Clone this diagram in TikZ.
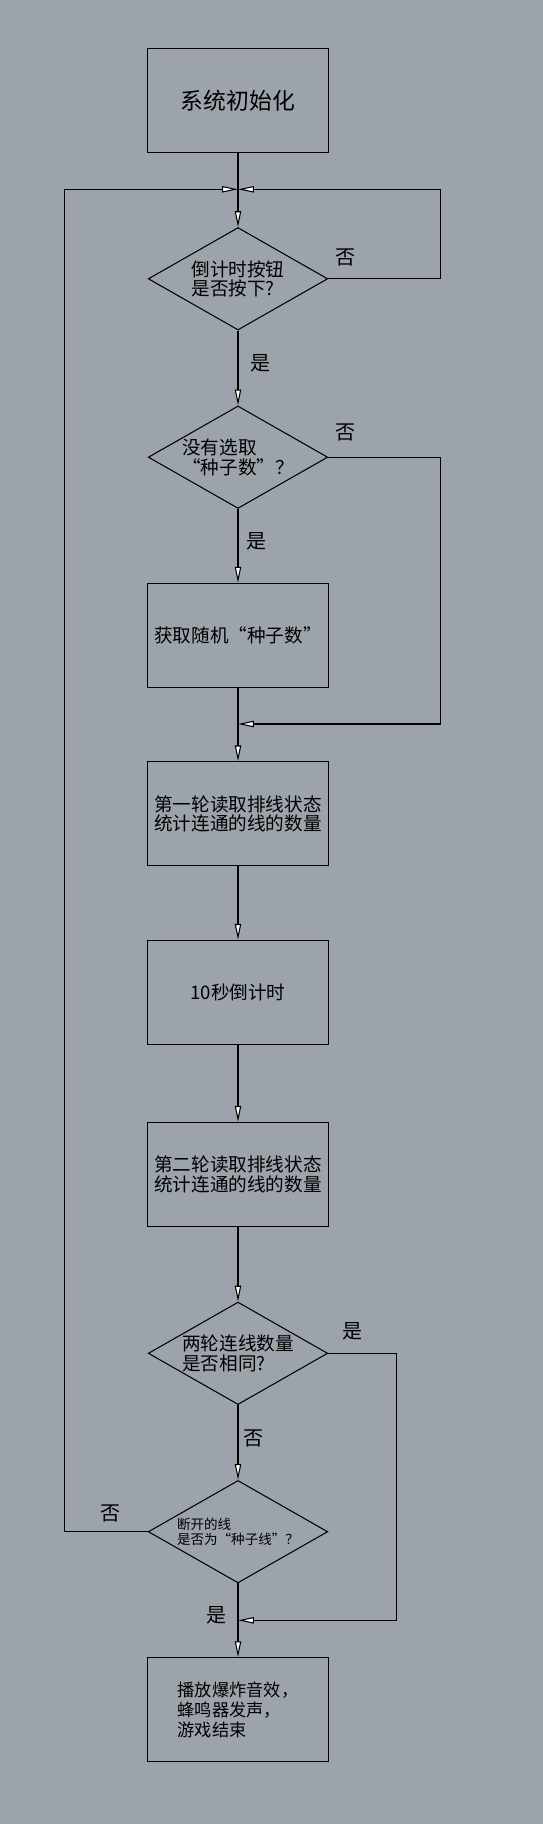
\documentclass[tikz,border=0pt]{standalone}
\usepackage{fontspec}
\setmainfont{Noto Sans CJK SC}
\usetikzlibrary{shapes.geometric,arrows.meta}
\definecolor{bggray}{RGB}{156,163,171}

\begin{document}
\begin{tikzpicture}
  [x=0.02cm,y=-0.02cm,line width=0.6pt,
   >={Triangle[length=9pt,width=3.6pt,fill=white]},
   box/.style={draw,rectangle,minimum width=3.62cm,minimum height=2.08cm,inner sep=0pt,
     font=\fontsize{10.6pt}{11.1pt}\selectfont},
   choice/.style={draw,diamond,aspect=1.75,minimum width=3.59cm,minimum height=2.05cm,inner sep=0pt,
     align=left,font=\fontsize{10.6pt}{11.1pt}\selectfont},
   lbl/.style={inner sep=0pt,font=\fontsize{11.4pt}{12pt}\selectfont}]
  \fill[bggray] (0,0) rectangle (543,1824);

  \node[box,font=\fontsize{13pt}{14pt}\selectfont] (init) at (238,100.3) {系统初始化};
  \node[choice] (d1) at (238,278.8) {倒计时按钮\\是否按下?};
  \node[choice] (d2) at (238,457.2) {没有选取\\“种子数”？};
  \node[box] (seed) at (238,635.2) {获取随机“种子数”};
  \node[box,align=center] (read1) at (238,813.8) {第一轮读取排线状态\\统计连通的线的数量};
  \node[box] (count) at (238,992.3) {10秒倒计时};
  \node[box,align=center] (read2) at (238,1174.3) {第二轮读取排线状态\\统计连通的线的数量};
  \node[choice] (d3) at (238,1353.3) {两轮连线数量\\是否相同?};
  \node[choice,font=\fontsize{7.7pt}{8.2pt}\selectfont] (d4) at (238,1531.7) {断开的线\\是否为“种子线”？};
  \node[box,align=left,font=\fontsize{9.8pt}{11.4pt}\selectfont] (boom) at (238,1709.7)
    {播放爆炸音效，\\蜂鸣器发声，\\游戏结束};

  \coordinate (top) at (238,189.3);
  \coordinate (mid) at (238,724);
  \coordinate (low) at (238,1620.3);

  \draw (init) -- (top);
  \draw (seed) -- (mid);
  \draw (d4) -- (low);
  \foreach \from/\to in {top/d1,d1/d2,d2/seed,mid/read1,read1/count,count/read2,read2/d3,d3/d4,low/boom}
    \draw[->] (\from) -- (\to);

  \draw[->] (d1.east) -- ++(111.8,0) |- (top);
  \draw[->] (d2.east) -- ++(111.8,0) |- (mid);
  \draw[->] (d3.east) -- ++(68.5,0) |- (low);
  \draw[->] (d4.west) -- ++(-82.9,0) |- (top);

  \node[lbl] (no1) at (346,257.7) {否};
  \node[lbl] (yes1) at (261,363) {是};
  \node[lbl] (no2) at (346,432.7) {否};
  \node[lbl] (yes2) at (256.6,541) {是};
  \node[lbl] (yes3) at (352.6,1331.7) {是};
  \node[lbl] (no3) at (254,1438) {否};
  \node[lbl] (no4) at (110.5,1513) {否};
  \node[lbl] (yes4) at (216.5,1615) {是};

\end{tikzpicture}
\end{document}
